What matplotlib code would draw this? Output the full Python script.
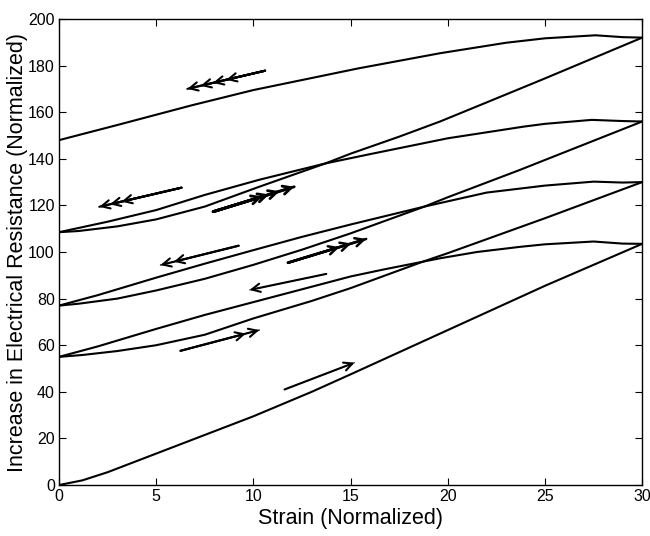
import matplotlib
matplotlib.use('Agg')
import matplotlib.pyplot as plt
import numpy as np

# loading / unloading cycles (strain, resistance)
load1_x = [0, 1.2, 2.5, 5, 7.5, 10, 13, 15, 20, 25, 30]
load1_y = [0, 2, 5.5, 13.5, 21.5, 29.5, 40, 47.5, 66.5, 85.5, 103.5]
unload1_x = [30, 29, 27.5, 25, 23.7, 21.5, 19.6, 16.7, 15, 12.5, 10, 7.5, 5, 2, 0]
unload1_y = [103.5, 103.6, 104.5, 103.3, 102.2, 100, 97.3, 92.5, 89.5, 84, 78.5, 73, 67, 59.5, 55]

load2_x = [0, 1.2, 3, 5, 7.5, 10, 13, 15, 18.7, 20, 25, 30]
load2_y = [55, 55.8, 57.5, 60, 64.5, 71.5, 79, 84.5, 95.8, 99.5, 114.5, 130]
unload2_x = [30, 29, 27.5, 25, 22, 18.8, 15, 12.5, 10, 7.5, 5, 2, 0]
unload2_y = [130, 129.8, 130.2, 128.5, 125.5, 119.5, 111.8, 106.5, 100.8, 95, 89, 81.5, 77]

load3_x = [0, 1, 3, 5, 7.5, 10, 12.5, 15, 18.8, 20, 23.7, 25, 30]
load3_y = [77, 77.8, 80, 83.5, 88.5, 94.5, 101, 108, 119.5, 123.5, 135.2, 139.5, 156]
unload3_x = [30, 29, 27.4, 25, 23.9, 20, 16, 13.7, 10.3, 7.5, 5, 2.5, 0]
unload3_y = [156, 156.2, 156.7, 155, 153.8, 148.8, 142, 138, 131, 124.5, 118, 113, 108.5]

load4_x = [0, 1, 3, 5, 7.5, 10.3, 13.7, 15, 17.5, 19.6, 22, 25, 30]
load4_y = [108.5, 109, 111, 114, 119.5, 128, 138, 142.2, 149.5, 156, 164.2, 174.5, 192]
unload4_x = [30, 29, 27.6, 25, 23, 19.6, 15.4, 10, 6.85, 3, 0]
unload4_y = [192, 192.2, 193, 191.7, 189.8, 185.3, 178.8, 169.5, 163, 154.5, 148]

# direction arrows: tail, tip, head positions (fraction of length), line width
arrows = [
    ((10.6, 177.8), (6.6, 170.0), [1.0, 0.83, 0.67, 0.50], 1.5),
    ((6.3, 127.6), (2.07, 119.4), [1.0, 0.87, 0.73], 1.5),
    ((7.93, 117.3), (12.1, 128.0), [1.0, 0.82, 0.69, 0.61], 2.0),
    ((9.24, 102.7), (5.22, 94.4), [1.0, 0.83], 1.0),
    ((11.78, 95.4), (15.8, 105.6), [1.0, 0.81, 0.66], 1.8),
    ((13.75, 90.6), (9.8, 83.7), [1.0], 0.7),
    ((6.25, 57.6), (10.3, 66.5), [1.0, 0.83], 1.0),
    ((11.6, 41.0), (15.2, 52.5), [1.0], 0.7),
]

fig = plt.figure(figsize=(6.5, 5.36), dpi=100)
ax = fig.add_axes([0.0908, 0.0951, 0.8972, 0.8695])

curves = [(load1_x, load1_y), (unload1_x, unload1_y),
          (load2_x, load2_y), (unload2_x, unload2_y),
          (load3_x, load3_y), (unload3_x, unload3_y),
          (load4_x, load4_y), (unload4_x, unload4_y)]
for cx, cy in curves:
    ax.plot(cx, cy, color='k', lw=1.5, solid_joinstyle='round')

for tail, tip, heads, lw in arrows:
    tail = np.array(tail)
    tip = np.array(tip)
    ax.annotate('', xy=tip, xytext=tail,
                arrowprops=dict(arrowstyle='-', color='k', lw=lw,
                                shrinkA=0, shrinkB=0))
    for f in heads:
        p = tail + f * (tip - tail)
        ax.annotate('', xy=p, xytext=tail,
                    arrowprops=dict(arrowstyle='->,head_length=0.6,head_width=0.3',
                                    color='k', lw=max(lw, 1.5),
                                    shrinkA=0, shrinkB=0))

ax.set_xlim(0, 30)
ax.set_ylim(0, 200)
ax.set_xticks(np.arange(0, 31, 5))
ax.set_yticks(np.arange(0, 201, 20))
ax.tick_params(direction='in', top=True, right=True, length=5, width=0.8,
               labelsize=11.5, pad=3)
for lab in ax.get_xticklabels() + ax.get_yticklabels():
    lab.set_family('Liberation Sans')
for s in ax.spines.values():
    s.set_linewidth(1.0)

ax.set_xlabel('Strain (Normalized)', fontsize=15.5, family='Liberation Sans', labelpad=3)
ax.set_ylabel('Increase in Electrical Resistance (Normalized)', fontsize=15.5,
              family='Liberation Sans', labelpad=0)

fig.savefig('out.png', dpi=100)
